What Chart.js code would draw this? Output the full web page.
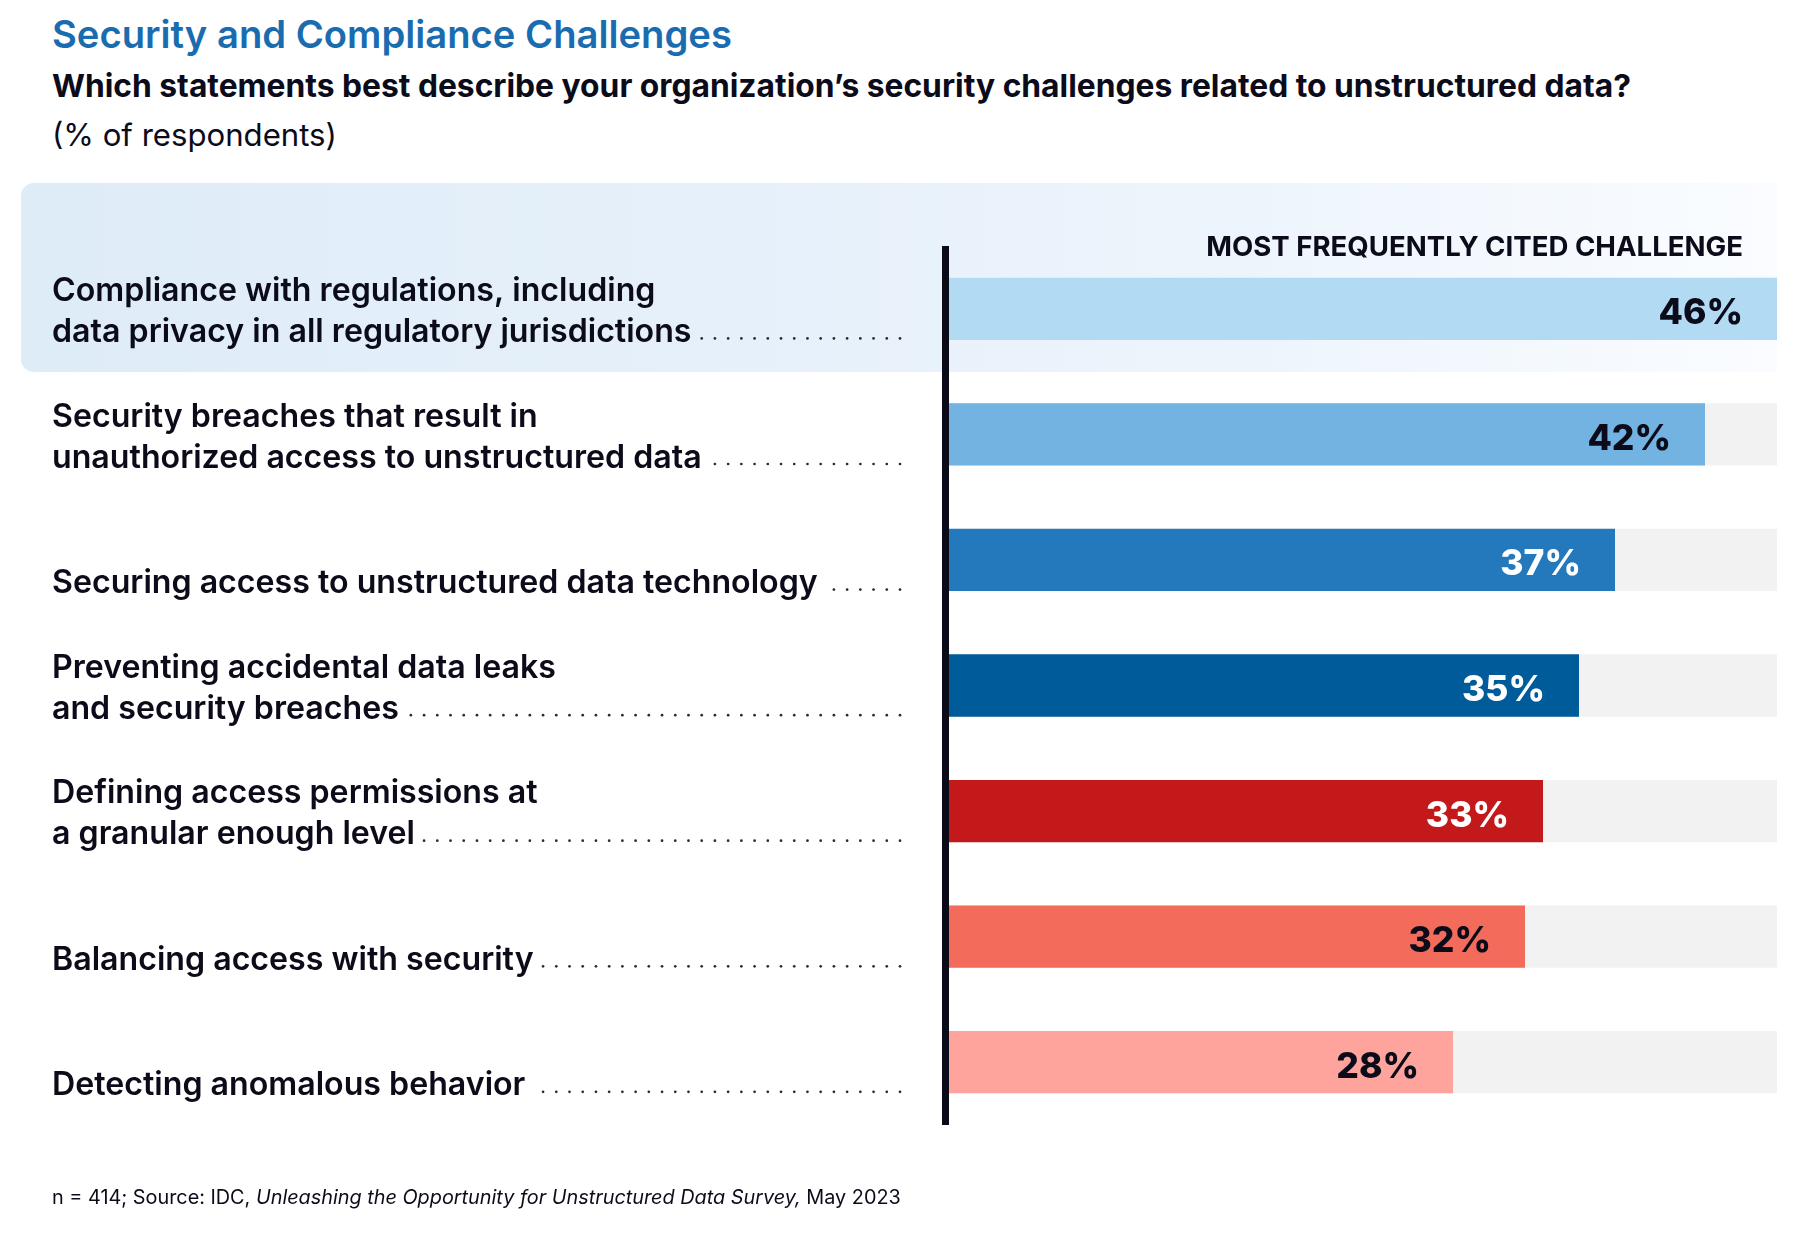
<!DOCTYPE html>
<html><head><meta charset="utf-8">
<script src="https://cdn.jsdelivr.net/npm/chart.js@4.4.0/dist/chart.umd.min.js"></script>
<style>
html,body{margin:0;padding:0;background:#fff;}
#wrap{position:relative;width:1800px;height:1237px;overflow:hidden;font-family:Inter,"Open Sans",sans-serif;color:#0b0b1a;}
.t{position:absolute;white-space:nowrap;line-height:1;margin:0;padding:0;}
#hl{position:absolute;left:21px;top:183px;width:1756px;height:189px;border-radius:13px 0 0 13px;background:linear-gradient(to right,#deecf8 0%,#e6f0fa 40%,#edf5fc 70%,#fafcff 100%);}
#title{color:#1a6cb0;font-weight:600;}
#sub{font-weight:700;}
#unit{font-weight:400;}
#note{font-weight:700;}
#foot{font-weight:400;}
canvas{position:absolute;left:0;top:0;}
</style></head><body>
<div id="wrap">
<div id="hl"></div>
<h1 class="t" id="title">Security and Compliance Challenges</h1>
<div class="t" id="sub">Which statements best describe your organization’s security challenges related to unstructured data?</div>
<div class="t" id="unit">(% of respondents)</div>
<canvas id="c" width="1800" height="1237"></canvas>
<div class="t" id="note">MOST FREQUENTLY CITED CHALLENGE</div>
<div class="t" id="foot">n = 414; Source: IDC, <i>Unleashing the Opportunity for Unstructured Data Survey,</i> May 2023</div>
</div>
<script>
// ---- data ----
const categories = [
  ['Compliance with regulations, including', 'data privacy in all regulatory jurisdictions'],
  ['Security breaches that result in', 'unauthorized access to unstructured data'],
  ['Securing access to unstructured data technology'],
  ['Preventing accidental data leaks', 'and security breaches'],
  ['Defining access permissions at', 'a granular enough level'],
  ['Balancing access with security'],
  ['Detecting anomalous behavior']
];
const values = [46, 42, 37, 35, 33, 32, 28];
const trackValues = [46, 46, 46, 46, 46, 46, 46];
const barColors = ['#b3daf3', '#72b3e2', '#2479bd', '#005b9b', '#c4191a', '#f26b5b', '#ffa39d'];
const valueLabelColors = ['#0b0b1a', '#0b0b1a', '#ffffff', '#ffffff', '#ffffff', '#0b0b1a', '#0b0b1a'];
const trackColor = '#f2f2f2';
const TEXT = '#0b0b1a';

// ---- font fitting helpers ----
const FAMILY = 'Inter, "Open Sans", sans-serif';
const meas = document.createElement('canvas').getContext('2d');
function tw(text, weight, size, style) {
  meas.font = `${style || 'normal'} ${weight} ${size}px ${FAMILY}`;
  return meas.measureText(text).width;
}
function fit(text, weight, target, style) { return 100 * target / tw(text, weight, 100, style); }
const ASC = 0.8633;
function place(id, size, baseline, left, right) {
  const el = document.getElementById(id);
  el.style.fontSize = size + 'px';
  el.style.top = (baseline - ASC * size) + 'px';
  if (left != null) el.style.left = left + 'px';
  if (right != null) el.style.right = right + 'px';
}
place('title', fit('Security and Compliance Challenges', 600, 680), 47.5, 52);
place('sub', fit('Which statements best describe your organization’s security challenges related to unstructured data?', 700, 1580), 97.5, 52);
place('unit', fit('(% of respondents)', 400, 285), 146.5, 52);
place('note', fit('MOST FREQUENTLY CITED CHALLENGE', 700, 537), 256.5, null, 57);
(function () {
  const w = tw('n = 414; Source: IDC, ', 400, 100) + tw('Unleashing the Opportunity for Unstructured Data Survey,', 400, 100, 'italic') + tw(' May 2023', 400, 100);
  place('foot', 100 * 849 / w, 1205, 52);
})();

const labelSize = fit('Securing access to unstructured data technology', 600, 766);
const valueSize = 35.5;
const LINE_H = 41;

const axisLine = {
  id: 'axisLine',
  afterDatasetsDraw(chart) {
    const { ctx, chartArea } = chart;
    ctx.save();
    ctx.fillStyle = '#0a0a18';
    ctx.fillRect(chartArea.left - 7, chartArea.top, 7, chartArea.bottom - chartArea.top);
    ctx.restore();
  }
};
const leaders = {
  id: 'leaders',
  afterDraw(chart) {
    const { ctx } = chart;
    const ys = chart.scales.y;
    const meta = chart.getDatasetMeta(0);
    ctx.save();
    ctx.font = `600 ${labelSize}px ${FAMILY}`;
    ctx.fillStyle = '#2a2a35';
    categories.forEach((lines, i) => {
      const bar = meta.data[i];
      const y = bar.y + bar.height / 2 - 1.5;
      const endX = ys.left + ctx.measureText(lines[lines.length - 1]).width;
      for (let x = 900; x >= endX + 4.5; x -= 13.22) {
        ctx.beginPath(); ctx.arc(x, y, 1.35, 0, Math.PI * 2); ctx.fill();
      }
    });
    ctx.restore();
  }
};
const valueLabels = {
  id: 'valueLabels',
  afterDatasetsDraw(chart) {
    const { ctx } = chart;
    const meta = chart.getDatasetMeta(0);
    ctx.save();
    ctx.font = `800 ${valueSize}px ${FAMILY}`;
    ctx.textAlign = 'right';
    ctx.textBaseline = 'alphabetic';
    meta.data.forEach((bar, i) => {
      ctx.fillStyle = valueLabelColors[i];
      ctx.fillText(values[i] + '%', bar.x - 34, bar.y + 15.5);
    });
    ctx.restore();
  }
};

new Chart(document.getElementById('c'), {
  type: 'bar',
  data: {
    labels: categories.map(l => l.join(' ')),
    datasets: [
      { label: 'Respondents (%)', data: values, backgroundColor: barColors, grouped: false, order: 1,
        categoryPercentage: 1, barPercentage: 0.496, borderWidth: 0 },
      { label: 'Track', data: trackValues, backgroundColor: trackColor, grouped: false, order: 2,
        categoryPercentage: 1, barPercentage: 0.496, borderWidth: 0 }
    ]
  },
  options: {
    indexAxis: 'y',
    responsive: false,
    animation: false,
    layout: { padding: { left: 52, top: 246, right: 23, bottom: 112 } },
    scales: {
      x: { display: false, min: 0, max: Math.max(...trackValues) },
      y: {
        position: 'left',
        grid: { display: false },
        border: { display: false },
        ticks: {
          crossAlign: 'far', padding: 0, color: TEXT, labelOffset: 3,
          font: { family: FAMILY, weight: 600, size: labelSize, lineHeight: LINE_H / labelSize },
          callback: (v, i) => categories[i].length === 1 ? ['', categories[i][0]] : categories[i]
        },
        afterFit: s => { s.width = 949 - 52; }
      }
    },
    plugins: { legend: { display: false }, tooltip: { enabled: false } }
  },
  plugins: [axisLine, leaders, valueLabels]
});
</script>
</body></html>
